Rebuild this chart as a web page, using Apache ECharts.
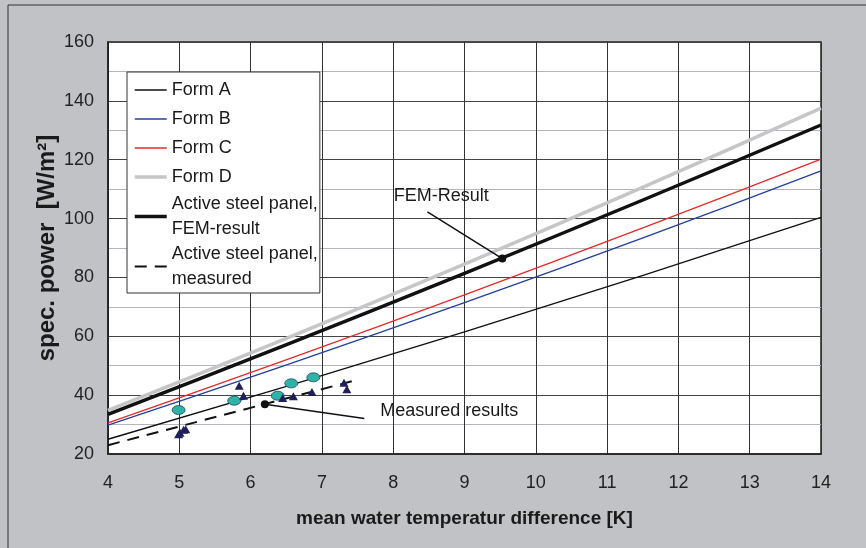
<!DOCTYPE html>
<html>
<head>
<meta charset="utf-8">
<script src="https://cdn.jsdelivr.net/npm/echarts@6/dist/echarts.min.js"></script>
<style>
html,body{margin:0;padding:0;background:#c1c2c6;}
#chart{width:866px;height:548px;}
</style>
</head>
<body>
<div id="chart"></div>
<script>
// ---- data ----
const xPts = [4, 9, 14];
const formA = [25.0, 61.5, 100.4];
const formB = [29.8, 71.4, 116.2];
const formC = [30.6, 74.1, 120.2];
const formD = [34.8, 84.5, 137.5];
const femLine = [33.5, 81.4, 131.8];
const measX = [4, 7.45];
const measLine = [23.0, 44.9];
const circlePts = [[4.99, 34.95], [5.77, 38.1], [6.38, 39.8], [6.57, 44.0], [6.88, 46.05]];
const trianglePts = [[5.84, 43.2], [5.90, 39.8], [6.45, 39.0], [6.60, 39.6], [6.86, 41.1],
  [7.31, 44.2], [7.35, 42.0], [4.99, 26.7], [5.01, 27.2], [5.06, 28.2], [5.09, 28.4]];
const seriesNames = ['Form A', 'Form B', 'Form C', 'Form D',
  'Active steel panel,\nFEM-result', 'Active steel panel,\nmeasured'];
const annoTexts = ['FEM-Result', 'Measured results'];
const annoMarkers = [[9.53, 86.4], [6.2, 36.9]];
const annoLineEnds = [[8.48, 102.3], [7.595, 32.1]];
const annoTextPos = [[8.675, 107.8], [7.81, 34.6]];
const xTitle = 'mean water temperatur difference [K]';
const yTitle = 'spec. power  [W/m²]';

const zip = (xs, ys) => xs.map((x, i) => [x, ys[i]]);
const FONT = '"Liberation Sans", Arial, sans-serif';

const chart = echarts.init(document.getElementById('chart'));

function lineSeries(name, ys, color, width, type, xs) {
  return {
    name: name, type: 'line', data: zip(xs || xPts, ys), smooth: true,
    symbol: 'none', showSymbol: false,
    lineStyle: { color: color, width: width, type: type || 'solid' },
    itemStyle: { color: color },
    emphasis: { disabled: true }, animation: false
  };
}

const option = {
  backgroundColor: '#c1c2c6',
  animation: false,
  textStyle: { fontFamily: FONT },
  grid: {
    left: 108, right: 45, top: 42, bottom: 94,
    show: true, backgroundColor: '#ffffff', borderColor: '#222', borderWidth: 1.5
  },
  graphic: [{
    type: 'rect', shape: { x: 8, y: 5, width: 900, height: 600 },
    style: { fill: 'none', stroke: '#333', lineWidth: 1 }, silent: true, z: -10
  }],
  legend: {
    orient: 'vertical', left: 127, top: 72,
    padding: [3.5, 2, 1.5, 6], itemGap: 0,
    itemWidth: 32, itemHeight: 14,
    backgroundColor: '#ffffff', borderColor: '#333', borderWidth: 1,
    itemStyle: { opacity: 0, borderWidth: 0 },
    lineStyle: { width: 'inherit', type: 'inherit' },
    textStyle: { fontSize: 18, color: '#1a1a1a', fontFamily: FONT, lineHeight: 29 },
    selectedMode: false,
    data: seriesNames.map((n, i) => i < 4 ? { name: n } : { name: n, textStyle: { lineHeight: 25 } })
  },
  xAxis: {
    type: 'value', min: 4, max: 14, interval: 1,
    name: xTitle, nameLocation: 'middle', nameGap: 55, nameMoveOverlap: false,
    nameTextStyle: { fontSize: 19, fontWeight: 'bold', color: '#1a1a1a', fontFamily: FONT },
    axisLine: { show: true, lineStyle: { color: '#222', width: 1.5 } },
    axisTick: { show: false },
    axisLabel: { fontSize: 18, color: '#222', margin: 20, fontFamily: FONT },
    splitLine: { show: true, lineStyle: { color: '#333', width: 1 } }
  },
  yAxis: {
    type: 'value', min: 20, max: 160, interval: 20,
    name: yTitle, nameLocation: 'middle', nameGap: 49, nameMoveOverlap: false,
    nameTextStyle: { fontSize: 24, fontWeight: 'bold', color: '#1a1a1a', fontFamily: FONT },
    axisLine: { show: true, lineStyle: { color: '#222', width: 1.5 } },
    axisTick: { show: false },
    axisLabel: { fontSize: 18, color: '#222', margin: 14, fontFamily: FONT },
    splitLine: { show: true, lineStyle: { color: '#444', width: 1 } },
    minorTick: { show: false, splitNumber: 2 },
    minorSplitLine: { show: true, lineStyle: { color: '#b4b5bc', width: 1 } }
  },
  series: [
    lineSeries(seriesNames[0], formA, '#111111', 1.4),
    lineSeries(seriesNames[1], formB, '#23409a', 1.3),
    lineSeries(seriesNames[2], formC, '#e52a2a', 1.3),
    lineSeries(seriesNames[3], formD, '#c6c6c8', 3.5),
    lineSeries(seriesNames[4], femLine, '#111111', 3.5),
    Object.assign(lineSeries(seriesNames[5], measLine, '#111111', 2, [12, 8], measX), { smooth: false }),
    {
      name: 'circles', type: 'scatter', data: circlePts,
      symbol: 'circle', symbolSize: [13, 9],
      itemStyle: { color: '#2fb3a6', borderColor: '#1d4e63', borderWidth: 0.8, opacity: 1 },
      emphasis: { disabled: true }, z: 5
    },
    {
      name: 'triangles', type: 'scatter', data: trianglePts,
      symbol: 'triangle', symbolSize: [9, 8],
      itemStyle: { color: '#1e1f5c', opacity: 1 },
      emphasis: { disabled: true }, z: 5
    },
    {
      name: 'leader1', type: 'line', data: [annoMarkers[0], annoLineEnds[0]],
      symbol: 'none', lineStyle: { color: '#111', width: 1.5 }, z: 6, emphasis: { disabled: true }
    },
    {
      name: 'leader2', type: 'line', data: [annoMarkers[1], annoLineEnds[1]],
      symbol: 'none', lineStyle: { color: '#111', width: 1.5 }, z: 6, emphasis: { disabled: true }
    },
    {
      name: 'markers', type: 'scatter', data: annoMarkers,
      symbol: 'circle', symbolSize: 8, itemStyle: { color: '#111', opacity: 1 }, z: 7,
      emphasis: { disabled: true }
    },
    {
      name: 'annotations', type: 'scatter',
      data: [
        { value: annoTextPos[0], name: annoTexts[0], label: { position: 'inside', align: 'center' } },
        { value: annoTextPos[1], name: annoTexts[1], label: { position: 'right', distance: 0 } }
      ],
      symbolSize: 1, itemStyle: { color: 'rgba(0,0,0,0)', opacity: 1 }, z: 8,
      label: { show: true, formatter: '{b}', fontSize: 18, color: '#1a1a1a', fontFamily: FONT,
        textBorderWidth: 0 },
      emphasis: { disabled: true }
    }
  ]
};
chart.setOption(option);
</script>
</body>
</html>
